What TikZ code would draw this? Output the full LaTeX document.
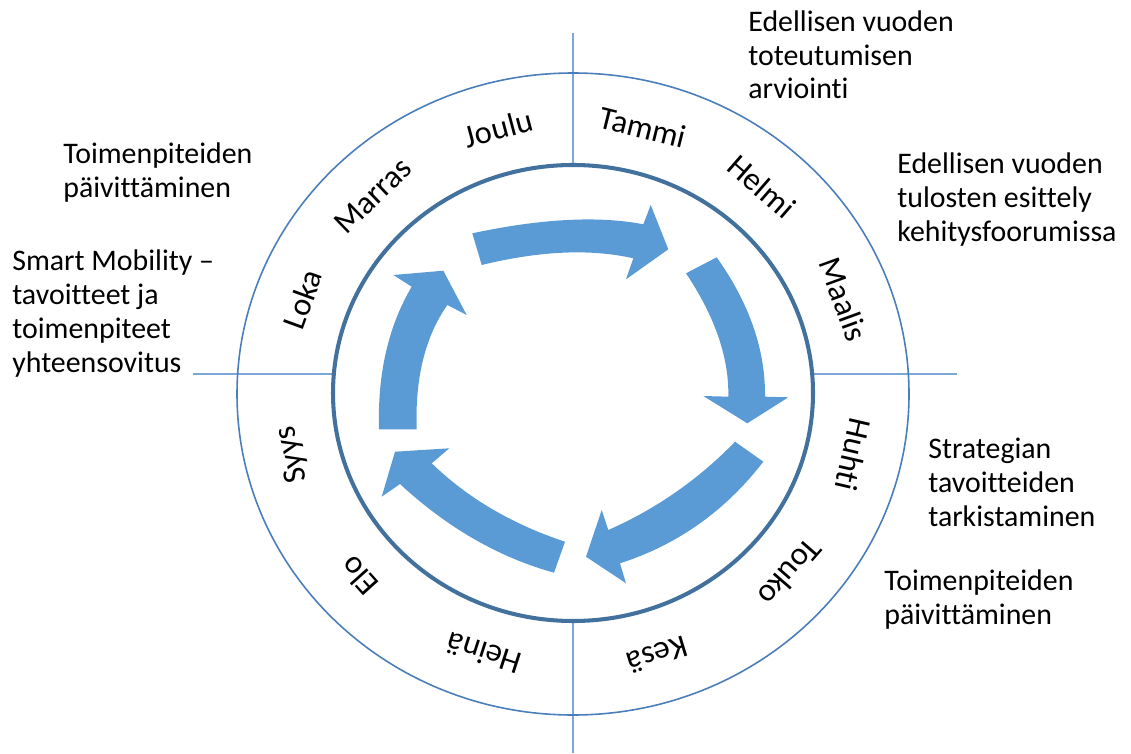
\documentclass[tikz,border=0pt]{standalone}
\usepackage{fontspec}
\setmainfont{Carlito}[Ligatures={TeX,NoCommon}]
\usepackage{xcolor}

\definecolor{ringblue}{HTML}{4A7EBB}
\definecolor{innerblue}{HTML}{41719C}
\definecolor{crossblue}{HTML}{7BA7D9}
\definecolor{arrowblue}{HTML}{5B9BD5}

\begin{document}
\begin{tikzpicture}[x=0.02cm, y=-0.02cm,
  kuvateksti/.style={font=\fontsize{17}{19.3}\selectfont, align=left, anchor=base west, inner sep=0pt},
  kuukausi/.style={font=\fontsize{18.5}{20}\selectfont, inner sep=0pt},
  nuoli/.style={fill=arrowblue, draw=none},
  jako/.style={draw=crossblue, line width=0.7pt}]
\useasboundingbox (0,0) rectangle (1131,753);
% Keskipiste ja säteet
\def\cx{573}
\def\cy{393}

% Jakoviivat
\coordinate (ntop) at (573,33);
\coordinate (ntopin) at (573,165);
\coordinate (sbotin) at (573,620);
\coordinate (sbot) at (573,753);
\coordinate (wout) at (193,374);
\coordinate (win) at (333,374);
\coordinate (ein) at (813,374);
\coordinate (eout) at (957,374);
\draw[jako] (ntop) -- (ntopin);
\draw[jako] (sbotin) -- (sbot);
\draw[jako] (wout) -- (win);
\draw[jako] (ein) -- (eout);

% Kehät
\draw[ringblue, line width=0.9pt] (\cx,394) ellipse [x radius=336, y radius=321];
\draw[innerblue, line width=2.3pt] (\cx,\cy) ellipse [x radius=240, y radius=228];

% Kuukaudet kehällä
\foreach \ang/\kk [count=\i] in {76/Tammi, 49/Helmi, 20/Maalis, -13/Huhti, -41/Touko, -73/Kesä,
    -108/Heinä, -138/Elo, -167/Syys, 160/Loka, 134/Marras, 105/Joulu}
  \node[kuukausi, rotate=\ang-90] (kk\i) at ({\cx+288*cos(\ang)}, {\cy-274*sin(\ang)}) {\kk};

% Nuolet (myötäpäivään)
\fill[nuoli] (472.3,233.3) .. controls (541.2,218.6) and (598.2,215.6) .. (643.3,224.3) -- (650.7,205)
  -- (668.3,249.3) -- (626,279.3) -- (633.3,258.3) .. controls (590.5,248.6) and (540,250.8) .. (481.7,265) -- cycle;
\fill[nuoli] (716.7,257.3) .. controls (749.4,303.4) and (765.5,349.8) .. (765,396.7) -- (788.3,397.3)
  -- (747.3,423.3) -- (703.3,396) -- (728.3,396.7) .. controls (729.1,357.8) and (715,316.7) .. (686,273.3) -- cycle;
\fill[nuoli] (763.3,461.7) .. controls (725.3,510.9) and (677.6,544.8) .. (620,563.3) -- (626,583.3)
  -- (586,556.7) -- (601.7,510) -- (608.3,530) .. controls (656.3,508.8) and (698.6,479.3) .. (735,441.7) -- cycle;
\fill[nuoli] (554,572.7) .. controls (498.7,557.3) and (447.3,527.8) .. (400,484) -- (381.7,496.7)
  -- (395,451.7) -- (449.3,448.3) -- (431.7,463.3) .. controls (467.7,498.1) and (512.1,524.2) .. (565,541.7) -- cycle;
\fill[nuoli] (379,429.3) .. controls (377.4,373.8) and (388.3,326.2) .. (411.7,286.7) -- (393.3,275)
  -- (443.3,270.7) -- (466.7,315) -- (447.3,305) .. controls (425.1,336.9) and (414.9,378.3) .. (416.7,429.3) -- cycle;

% Vaiheiden kuvaukset (ankkuri viimeisen rivin perusviivalla)
\node[kuvateksti] (arviointi) at (748,99) {Edellisen vuoden\\toteutumisen\\arviointi};
\node[kuvateksti] (esittely) at (897,241) {Edellisen vuoden\\tulosten esittely\\kehitysfoorumissa};
\node[kuvateksti] (tarkistus) at (928,526) {Strategian\\tavoitteiden\\tarkistaminen};
\node[kuvateksti] (paivitys) at (884,624) {Toimenpiteiden\\päivittäminen};
\node[kuvateksti] (paivitysb) at (63,197) {Toimenpiteiden\\päivittäminen};
\node[kuvateksti] (yhteensovitus) at (12,372) {Smart Mobility --\\tavoitteet ja\\toimenpiteet\\yhteensovitus};
\end{tikzpicture}
\end{document}
